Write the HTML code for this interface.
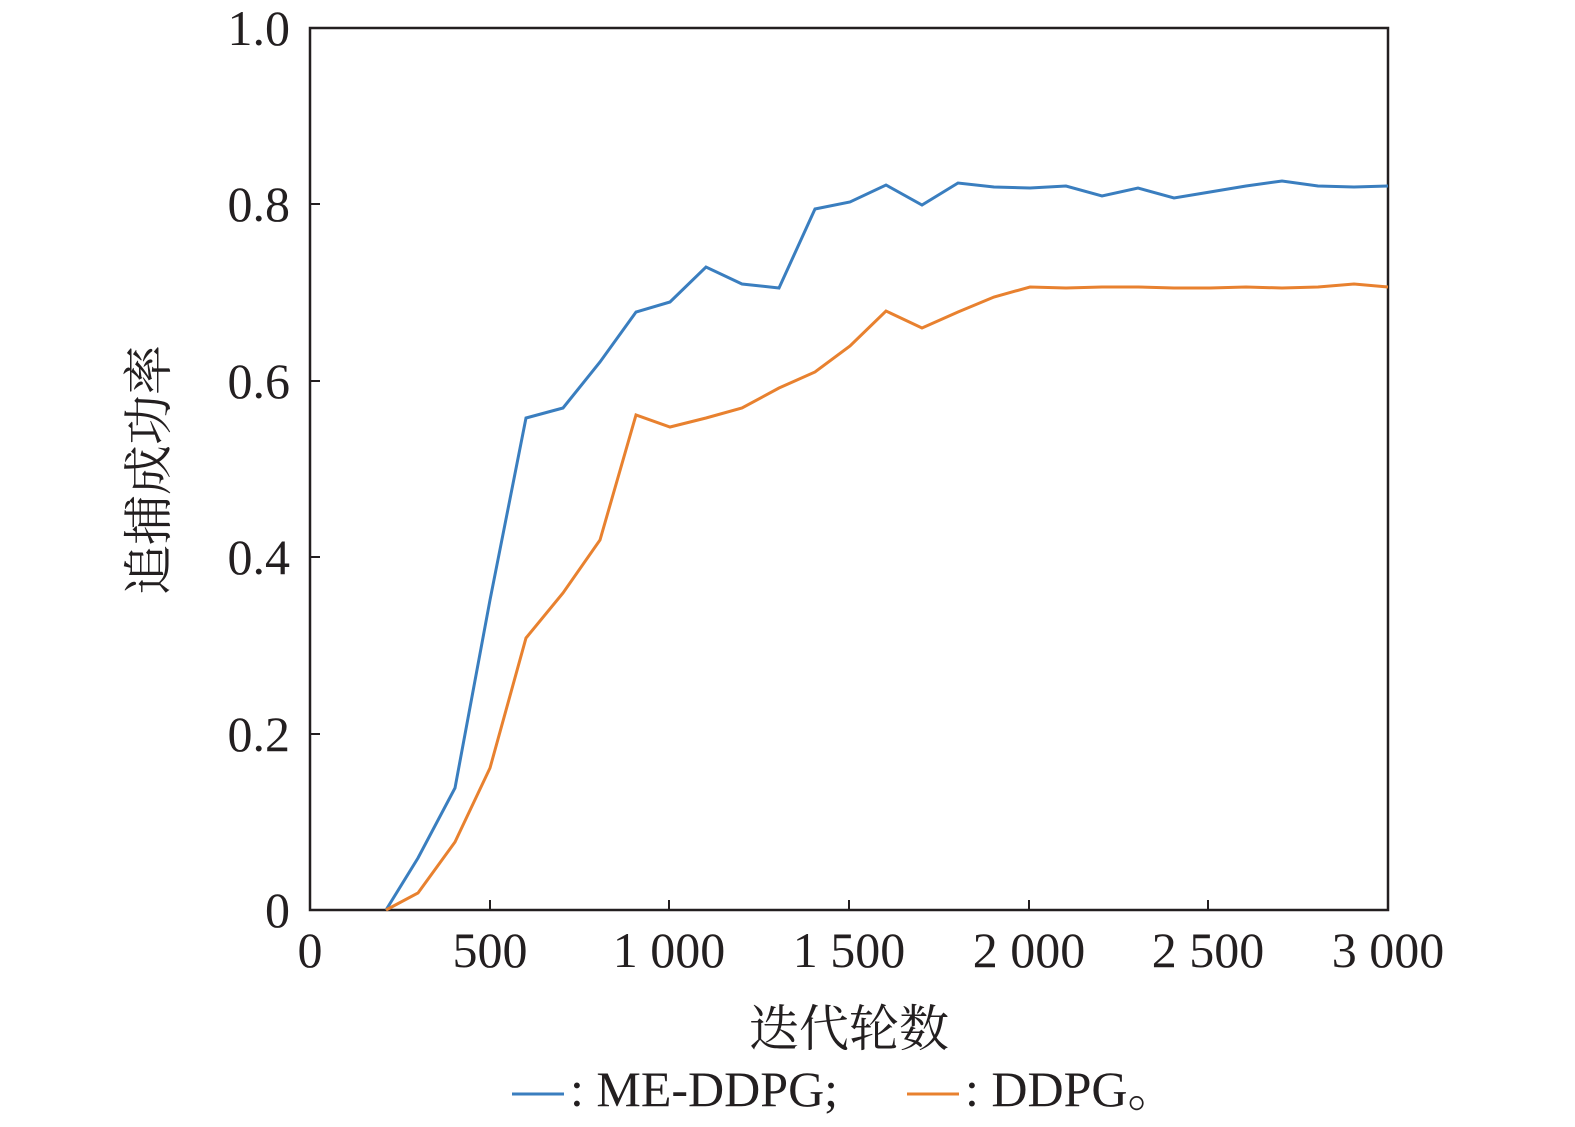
<!DOCTYPE html>
<html><head><meta charset="utf-8"><style>
html,body{margin:0;padding:0;background:#fff;}
svg{display:block;}
text{font-family:"Liberation Serif","Noto Serif CJK SC",serif;fill:#231f20;}
</style></head><body>
<svg width="1575" height="1127" viewBox="0 0 1575 1127">
<rect x="310" y="28" width="1078" height="882" fill="none" stroke="#231f20" stroke-width="2.5"/>
<g stroke="#231f20" stroke-width="2">
<line x1="490" y1="910" x2="490" y2="900"/><line x1="669" y1="910" x2="669" y2="900"/>
<line x1="849" y1="910" x2="849" y2="900"/><line x1="1029" y1="910" x2="1029" y2="900"/>
<line x1="1208" y1="910" x2="1208" y2="900"/>
<line x1="310" y1="734" x2="320" y2="734"/><line x1="310" y1="557" x2="320" y2="557"/>
<line x1="310" y1="381" x2="320" y2="381"/><line x1="310" y1="204" x2="320" y2="204"/>
</g>
<g font-size="50" text-anchor="end">
<text x="290" y="927">0</text><text x="290" y="751">0.2</text><text x="290" y="574">0.4</text>
<text x="290" y="398">0.6</text><text x="290" y="221">0.8</text><text x="290" y="45">1.0</text>
</g>
<g font-size="50" text-anchor="middle">
<text x="310" y="967">0</text><text x="490" y="967">500</text><text x="669" y="967">1 000</text>
<text x="849" y="967">1 500</text><text x="1029" y="967">2 000</text><text x="1208" y="967">2 500</text>
<text x="1388" y="967">3 000</text>
</g>
<text x="849" y="1046" font-size="50" text-anchor="middle" font-family="Noto Serif CJK SC,serif">迭代轮数</text>
<text transform="translate(166,470) rotate(-90)" font-size="50" text-anchor="middle" font-family="Noto Serif CJK SC,serif">追捕成功率</text>
<polyline fill="none" stroke="#3a7ebf" stroke-width="3" points="386,910 418,858 455,788 490,600 526,418 563,408 600,362 636,312 670,302 706,267 742,284 779,288 815,209 850,202 886,185 922,205 958,183 994,187 1030,188 1066,186 1102,196 1138,188 1174,198 1210,192 1246,186 1282,181 1318,186 1354,187 1388,186"/>
<polyline fill="none" stroke="#e8812f" stroke-width="3" points="386,910 418,893 455,842 490,768 526,638 563,593 600,540 636,415 670,427 706,418 742,408 779,388 815,372 850,346 886,311 922,328 958,312 994,297 1030,287 1066,288 1102,287 1138,287 1174,288 1210,288 1246,287 1282,288 1318,287 1354,284 1388,287"/>
<line x1="512" y1="1094" x2="564" y2="1094" stroke="#3a7ebf" stroke-width="3"/>
<text x="570" y="1106" font-size="50">: ME-DDPG;</text>
<line x1="907" y1="1094" x2="959" y2="1094" stroke="#e8812f" stroke-width="3"/>
<text x="965" y="1106" font-size="50">: DDPG。</text>
</svg>
</body></html>
